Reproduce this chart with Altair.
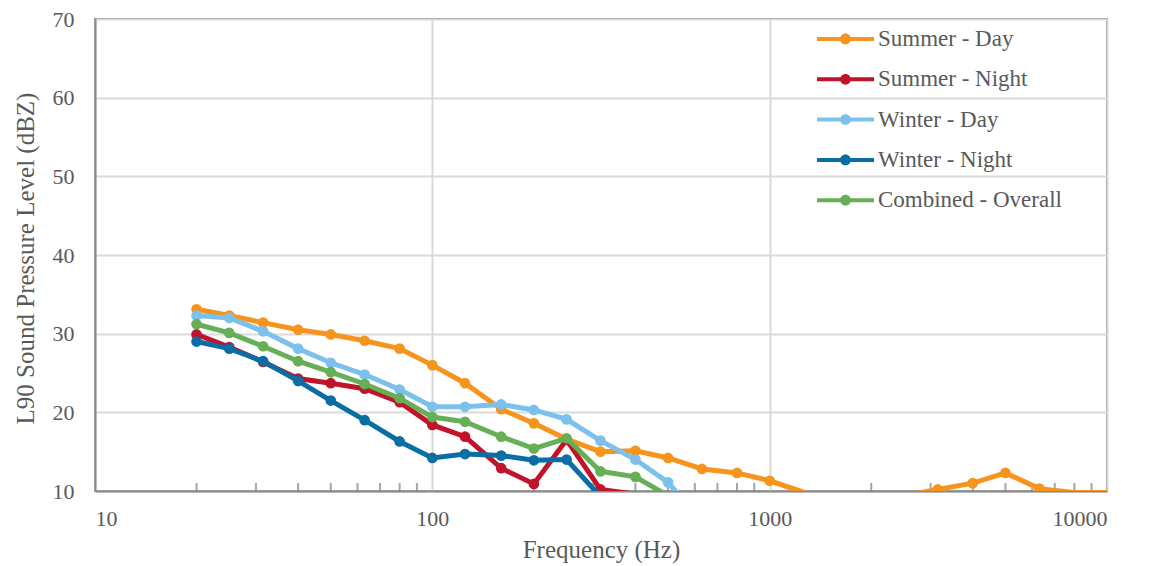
import altair as alt
import pandas as pd

freqs = [20, 25, 31.5, 40, 50, 63, 80, 100, 125, 160, 200, 250, 315, 400, 500,
         630, 800, 1000, 1250, 1600, 2000, 2500, 3150, 4000, 5000, 6300, 8000, 10000]

series_names = ["Summer - Day", "Summer - Night", "Winter - Day", "Winter - Night", "Combined - Overall"]
series_colors = ["#F7941D", "#C0142A", "#7BC1EB", "#0A6EA5", "#67AF57"]

summer_day = [33.1, 32.3, 31.4, 30.5, 29.9, 29.1, 28.1, 26.0, 23.7, 20.4, 18.6, 16.6, 15.0, 15.1, 14.2,
              12.8, 12.3, 11.3, 9.9, 6.5, 7.5, 9.4, 10.2, 11.0, 12.3, 10.3, 9.8, 9.8]
summer_night = [29.9, 28.3, 26.4, 24.3, 23.7, 23.0, 21.3, 18.4, 16.9, 12.9, 10.9, 16.5, 10.2, 9.6, 7.5,
                6.8, 6.0, 5.5, 5.0, 4.8, 4.5, 4.2, 4.0, 4.0, 4.0, 3.8, 3.5, 3.2]
winter_day = [32.3, 32.0, 30.3, 28.1, 26.3, 24.8, 22.9, 20.7, 20.7, 21.0, 20.3, 19.1, 16.4, 14.0, 11.1,
              6.0, 5.5, 5.0, 4.8, 4.6, 4.4, 4.2, 4.1, 4.0, 3.9, 3.8, 3.6, 3.4]
winter_night = [29.0, 28.1, 26.5, 24.0, 21.5, 19.0, 16.3, 14.2, 14.7, 14.5, 13.9, 14.0, 9.3, 7.0, 6.2,
                5.6, 5.1, 4.8, 4.5, 4.3, 4.1, 4.0, 3.9, 3.8, 3.7, 3.6, 3.4, 3.2]
combined = [31.2, 30.1, 28.4, 26.5, 25.1, 23.6, 21.8, 19.4, 18.8, 16.9, 15.4, 16.7, 12.5, 11.8, 9.4,
            7.5, 6.8, 6.3, 6.0, 5.6, 5.5, 5.6, 5.9, 6.3, 6.6, 6.0, 5.4, 5.0]

minor_ticks = [20, 30, 40, 50, 60, 70, 80, 90, 200, 300, 400, 500, 600, 700, 800, 900,
               2000, 3000, 4000, 5000, 6000, 7000, 8000, 9000]
x_labels = [10, 100, 1000, 10000]
y_labels = [10, 20, 30, 40, 50, 60, 70]

all_values = [summer_day, summer_night, winter_day, winter_night, combined]

FONT = "Liberation Serif"
TXT = "#595959"
FRAME = "#898989"

xscale = alt.Scale(type="log", domain=[10, 10000], nice=False)
yscale = alt.Scale(domain=[10, 70], nice=False, zero=False)
cscale = alt.Scale(domain=series_names, range=series_colors)

x_enc = alt.X("freq:Q", scale=xscale, title="Frequency (Hz)",
              axis=alt.Axis(values=x_labels, format="d", grid=True, ticks=False, tickSize=0,
                            labelPadding=17, titleY=66, titleBaseline="alphabetic"))
y_enc = alt.Y("level:Q", scale=yscale, title="L90 Sound Pressure Level (dBZ)",
              axis=alt.Axis(values=y_labels, grid=True, ticks=False, tickSize=0, labelPadding=21,
                            titleX=-62, titleY=239, titleBaseline="alphabetic", titleAngle=270))

legend_path = ("M-1,-0.07L1,-0.07L1,0.07L-1,0.07Z "
               "M-0.19,0A0.19,0.19 0 1,1 0.19,0A0.19,0.19 0 1,1 -0.19,0Z")

legend = alt.Legend(orient="none", legendX=722, legendY=9, padding=0,
                    symbolType=legend_path, symbolSize=3249, symbolStrokeWidth=0,
                    clipHeight=22, rowPadding=17.3, labelOffset=4,
                    labelFont=FONT, labelFontSize=23, labelColor=TXT, labelLimit=300)

tick_df = pd.DataFrame({"freq": minor_ticks, "lo": [10] * len(minor_ticks)})
ticks = alt.Chart(tick_df).mark_tick(color="#7F7F7F", thickness=2, size=8, orient="vertical",
                                     yOffset=-4).encode(
    x=x_enc, y=alt.Y("lo:Q", scale=yscale)
)

layers = [ticks]
for name, col, vals in zip(series_names, series_colors, all_values):
    df = pd.DataFrame({"freq": freqs, "level": vals, "series": name})
    base = alt.Chart(df)
    line = base.mark_line(strokeWidth=5, clip=True, color=col).encode(x=x_enc, y=y_enc)
    pts = base.transform_filter(alt.datum.level >= 10).mark_circle(size=115, opacity=1, clip=True).encode(
        x=x_enc, y=y_enc,
        color=alt.Color("series:N", scale=cscale, title=None, legend=legend),
    )
    layers += [line, pts]

chart = alt.layer(*layers).properties(
    width=1012, height=472,
    padding={"left": 95, "top": 19, "right": 47, "bottom": 75},
    autosize=alt.AutoSizeParams(type="none"),
).configure_view(
    stroke=FRAME, strokeWidth=2
).configure_axis(
    labelFont=FONT, labelFontSize=22, labelColor=TXT,
    titleFont=FONT, titleFontSize=25, titleColor=TXT, titleFontWeight="normal",
    gridColor="#D9D9D9", gridWidth=2,
    domainColor=FRAME, domainWidth=2,
)

chart.save("out.html", embed_options={"renderer": "svg", "actions": False})
